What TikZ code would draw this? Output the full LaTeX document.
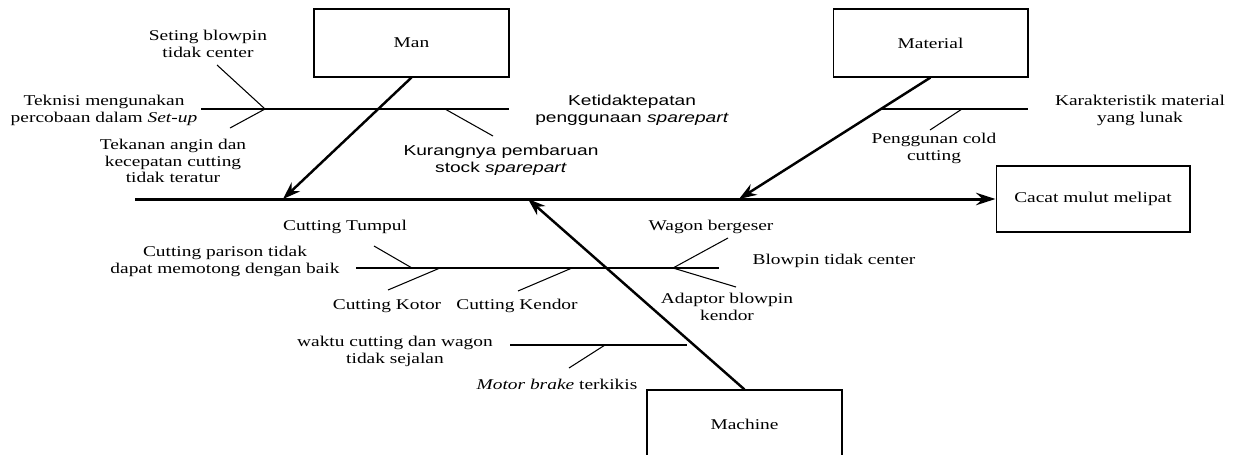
\documentclass[tikz,border=0pt]{standalone}
\usepackage{fontspec}
\setmainfont{Liberation Serif}[FakeStretch=1.3]
\newfontfamily\sparefont{Liberation Sans}[FakeStretch=1.33]
\usetikzlibrary{arrows.meta}

\begin{document}
\begin{tikzpicture}[x=0.02cm, y=-0.02cm,
	txt/.style={align=center, inner sep=0pt, font=\fontsize{8.5}{9.6}\selectfont},
	sanstxt/.style={txt, font=\sparefont\fontsize{8.2}{9.6}\selectfont},
	causebox/.style={draw, line width=0.6pt, minimum width=3.9cm, minimum height=1.36cm, txt},
	spine/.style={line width=1.7pt, -{Stealth[length=11pt, width=7pt]}},
	bone/.style={line width=1.4pt, -{Stealth[length=10pt, width=7pt]}},
	branch/.style={line width=1.1pt},
	twig/.style={line width=0.6pt}]
	\useasboundingbox (0,0) rectangle (1238,454);

	\node[causebox] (man) at (411.5,43) {Man};
	\node[causebox] (material) at (930.5,43) {Material};
	\node[causebox] (machine) at (744.5,424) {Machine};
	\node[causebox, minimum width=3.88cm, minimum height=1.32cm] (cacat) at (1093,199) {Cacat mulut melipat};

	\coordinate (tail) at (135,199);
	\coordinate (manhit) at (283,199);
	\coordinate (mathit) at (739,199);
	\coordinate (machit) at (528,199);
	\draw[spine] (tail) -- (cacat.west);
	\draw[bone] (man.south) -- (manhit);
	\draw[bone] (material.south) -- (mathit);
	\draw[bone] (machine.north) -- (machit);

	\coordinate (manA) at (201,109);
	\coordinate (manB) at (509,109);
	\coordinate (setA) at (217,65);
	\coordinate (setB) at (265,109);
	\coordinate (tekA) at (230,128);
	\coordinate (kurA) at (445,109);
	\coordinate (kurB) at (493,136);
	\draw[branch] (manA) -- (manB);
	\draw[twig] (setA) -- (setB) -- (tekA);
	\draw[twig] (kurA) -- (kurB);

	\coordinate (matA) at (881,109);
	\coordinate (matB) at (1028,109);
	\coordinate (pengA) at (962,109);
	\coordinate (pengB) at (930,130);
	\draw[branch] (matA) -- (matB);
	\draw[twig] (pengA) -- (pengB);

	\coordinate (macA) at (356,268);
	\coordinate (macB) at (719,268);
	\coordinate (tumA) at (374,246);
	\coordinate (tumB) at (412,268);
	\coordinate (kotA) at (440,268);
	\coordinate (kotB) at (388,290);
	\coordinate (kenA) at (572,268);
	\coordinate (kenB) at (518,291);
	\coordinate (wagA) at (728,238);
	\coordinate (wagB) at (673,268);
	\coordinate (adaB) at (736,287);
	\draw[branch] (macA) -- (macB);
	\draw[twig] (tumA) -- (tumB);
	\draw[twig] (kotA) -- (kotB);
	\draw[twig] (kenA) -- (kenB);
	\draw[twig] (wagA) -- (wagB) -- (adaB);

	\coordinate (wakA) at (510,345);
	\coordinate (wakB) at (687,345);
	\coordinate (motA) at (605,345);
	\coordinate (motB) at (569,368);
	\draw[branch] (wakA) -- (wakB);
	\draw[twig] (motA) -- (motB);

	\node[txt] (seting) at (208,43.5) {Seting blowpin\\tidak center};
	\node[txt] (teknisi) at (104,110) {Teknisi mengunakan\\percobaan dalam \textit{Set-up}};
	\node[txt] (tekanan) at (173,161) {Tekanan angin dan\\kecepatan cutting\\tidak teratur};
	\node[sanstxt] (kurang) at (501,160.5) {Kurangnya pembaruan\\stock \textit{sparepart}};
	\node[sanstxt] (ketidak) at (632,110) {Ketidaktepatan\\penggunaan \textit{sparepart}};
	\node[txt] (karakter) at (1140,110) {Karakteristik material\\yang lunak};
	\node[txt] (penggunan) at (934,148.5) {Penggunan cold\\cutting};
	\node[txt] (tumpul) at (345,227) {Cutting Tumpul};
	\node[txt] (parison) at (225,261.5) {Cutting parison tidak\\dapat memotong dengan baik};
	\node[txt] (kotor) at (387,306) {Cutting Kotor};
	\node[txt] (kendor) at (517,306) {Cutting Kendor};
	\node[txt] (wagon) at (711,227) {Wagon bergeser};
	\node[txt] (blowpin) at (834,261) {Blowpin tidak center};
	\node[txt] (adaptor) at (727,306.5) {Adaptor blowpin\\kendor};
	\node[txt] (waktu) at (395,351) {waktu cutting dan wagon\\tidak sejalan};
	\node[txt] (motor) at (557,384) {\textit{Motor brake} terkikis};
\end{tikzpicture}
\end{document}
